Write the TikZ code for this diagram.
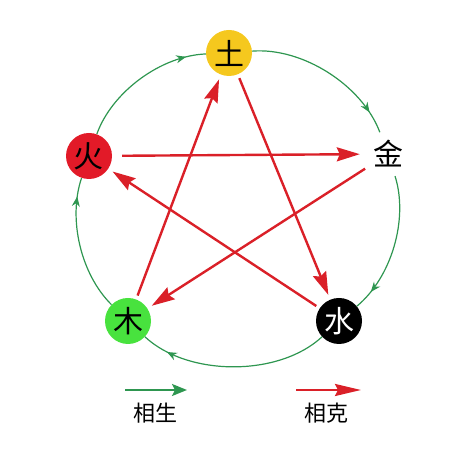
\documentclass[tikz,border=0pt]{standalone}
\usepackage{fontspec}
\setmainfont{Noto Sans CJK SC}
\usetikzlibrary{arrows.meta,decorations.markings}

\definecolor{shengGreen}{RGB}{46,150,80}
\definecolor{keRed}{RGB}{218,32,40}
\definecolor{tuYellow}{RGB}{245,200,30}
\definecolor{huoRed}{RGB}{226,26,40}
\definecolor{muGreen}{RGB}{72,226,62}

\begin{document}
\begin{tikzpicture}[x=1pt,y=1pt,
  element/.style={circle, minimum size=46pt, inner sep=0pt, font=\fontsize{30}{30}\selectfont},
  sheng/.style={shengGreen, line width=1.2pt, looseness=0.85, postaction={decorate},
    decoration={markings, mark=at position 0.86 with {\arrow{Stealth[length=10pt,width=8pt]}}}},
  ke/.style={keRed, line width=2.4pt, -{Stealth[length=23pt,width=14pt,inset=3pt]}, shorten <=4pt, shorten >=5pt},
  legend/.style={font=\fontsize{22}{22}\selectfont}]

\useasboundingbox (0,0) rectangle (472,457);

%% Elements
\node[element, fill=tuYellow] (tu) at (229,404) {土};
\node[element, fill=white] (jin) at (388,303) {金};
\node[element, fill=black, text=white] (shui) at (339,136) {水};
\node[element, fill=muGreen] (mu) at (128,136) {木};
\node[element, fill=huoRed] (huo) at (89,301) {火};

%% Generating cycle
\draw[sheng] (huo) to[bend left=34] (tu);
\draw[sheng] (tu) to[bend left=37] (jin);
\draw[sheng] (jin) to[bend left=34] (shui);
\draw[sheng] (shui) to[bend left=43] (mu);
\draw[sheng] (mu) to[bend left=32] (huo);

%% Overcoming star
\draw[ke] (mu) -- (tu);
\draw[ke] (tu) -- (shui);
\draw[ke] (shui) -- (huo);
\draw[ke, shorten <=10pt] (huo) -- (jin);
\draw[ke] (jin) -- (mu);

%% Legend
\coordinate (gs) at (125,67);
\coordinate (ge) at (187,67);
\coordinate (rs) at (296,67);
\coordinate (re) at (361,67);
\draw[shengGreen, line width=2.2pt, -{Stealth[length=15pt,width=12pt,inset=3pt]}] (gs) -- (ge);
\draw[keRed, line width=2.2pt, -{Stealth[length=26pt,width=12pt,inset=3pt]}] (rs) -- (re);
\node[legend] (xs) at (155,44) {相生};
\node[legend] (xk) at (326,44) {相克};

\end{tikzpicture}
\end{document}
